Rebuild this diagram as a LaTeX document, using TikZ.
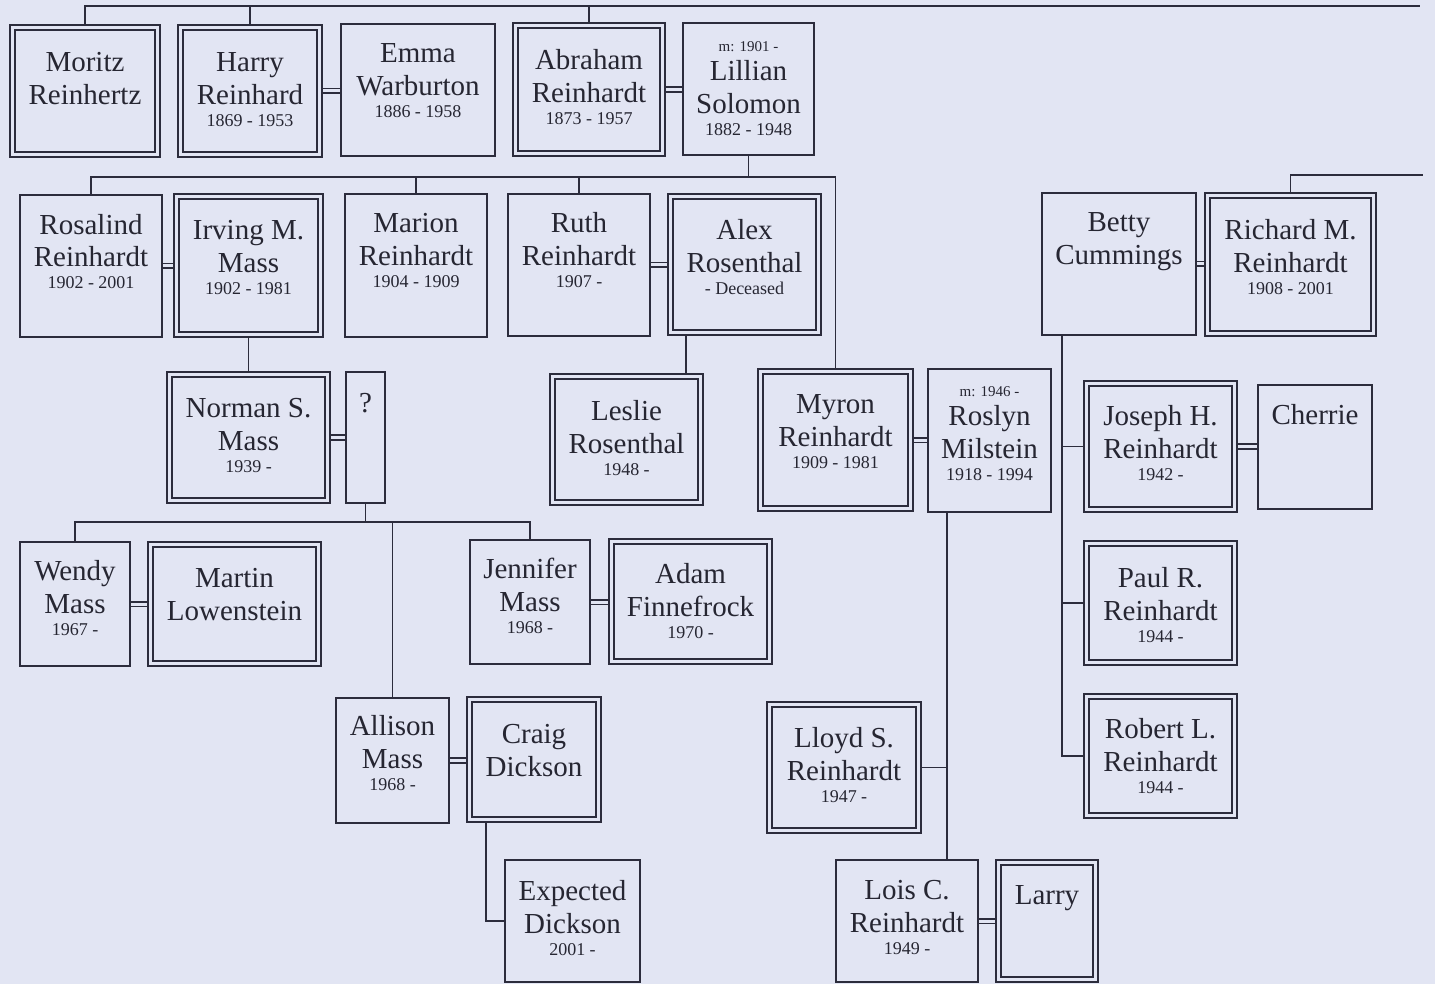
\documentclass[tikz,border=0pt]{standalone}
\usepackage{fontspec}
\setmainfont{Liberation Serif}
\definecolor{bgc}{RGB}{226,229,243}
\definecolor{lc}{RGB}{44,44,60}
\definecolor{tc}{RGB}{38,38,50}
\pgfdeclarelayer{bgl}
\pgfdeclarelayer{lines}
\pgfsetlayers{bgl,lines,main}
\newcommand\namefont{\fontsize{14.5}{16.5}\selectfont\lineskiplimit=-100pt\relax}
\newcommand\yrs[1]{\\[-5.5pt]{\fontsize{9}{9}\selectfont #1}}
\newcommand\mline[1]{{\fontsize{7.5}{7.5}\selectfont #1}\\[-2pt]}
\tikzset{
  sbox/.style={draw=lc, fill=bgc, line width=0.8pt, inner sep=0pt, outer sep=0pt, text=tc},
  dbox/.style={sbox, double=bgc, double distance=1.7pt},
  conn/.style={draw=lc, line width=0.75pt},
  marr/.style={draw=lc, line width=0.85pt, double=bgc, double distance=1.5pt},
}
\newcommand\psingle[7]{%
  \pgfmathsetlengthmacro\pbw{(#4-#2)*0.5pt}%
  \pgfmathsetlengthmacro\pbh{(#5-#3)*0.5pt}%
  \pgfmathsetlengthmacro\pbt{(#6)*0.5pt}%
  \node[sbox] (#1) at ({(#2+#4)/2},{(#3+#5)/2}) {\parbox[c][\pbh][t]{\pbw}{\namefont\centering\rule{0pt}{\pbt}#7}};%
}
\newcommand\pdouble[7]{%
  \pgfmathsetlengthmacro\pbw{(#4-#2-5)*0.5pt}%
  \pgfmathsetlengthmacro\pbh{(#5-#3-5)*0.5pt}%
  \pgfmathsetlengthmacro\pbt{(#6-2.5)*0.5pt}%
  \node[dbox] (#1) at ({(#2+#4)/2},{(#3+#5)/2}) {\parbox[c][\pbh][t]{\pbw}{\namefont\centering\rule{0pt}{\pbt}#7}};%
}
\begin{document}
\begin{tikzpicture}[x=0.5pt, y=-0.5pt]
\useasboundingbox (0,0) rectangle (1435,984);
\begin{pgfonlayer}{bgl}
  \fill[bgc] (0,0) rectangle (1435,984);
\end{pgfonlayer}

% Row 1
\pdouble{moritz}{10}{25}{160}{157}{47}{Moritz\\Reinhertz}
\pdouble{harry}{178}{25}{322}{157}{47}{Harry\\Reinhard\yrs{1869 - 1953}}
\psingle{emma}{341}{24}{495}{156}{39}{Emma\\Warburton\yrs{1886 - 1958}}
\pdouble{abraham}{513}{23}{665}{156}{47}{Abraham\\Reinhardt\yrs{1873 - 1957}}
\psingle{lillian}{683}{23}{814}{155}{29}{\mline{m: 1901 -}Lillian\\Solomon\yrs{1882 - 1948}}

% Row 2
\psingle{rosalind}{20}{195}{162}{337}{39}{Rosalind\\Reinhardt\yrs{1902 - 2001}}
\pdouble{irving}{174}{194}{323}{337}{46}{Irving M.\\Mass\yrs{1902 - 1981}}
\psingle{marion}{345}{194}{487}{337}{39}{Marion\\Reinhardt\yrs{1904 - 1909}}
\psingle{ruth}{508}{194}{650}{336}{39}{Ruth\\Reinhardt\yrs{1907 -}}
\pdouble{alex}{668}{194}{821}{335}{46}{Alex\\Rosenthal\yrs{- Deceased}}
\psingle{betty}{1042}{193}{1196}{335}{39}{Betty\\Cummings}
\pdouble{richard}{1205}{193}{1376}{336}{47}{Richard M.\\Reinhardt\yrs{1908 - 2001}}

% Row 3
\pdouble{norman}{167}{372}{330}{503}{45}{Norman S.\\Mass\yrs{1939 -}}
\psingle{unk}{346}{372}{385}{503}{40}{?}
\pdouble{leslie}{550}{374}{703}{505}{46}{Leslie\\Rosenthal\yrs{1948 -}}
\pdouble{myron}{758}{369}{913}{511}{44}{Myron\\Reinhardt\yrs{1909 - 1981}}
\psingle{roslyn}{928}{369}{1051}{512}{27}{\mline{m: 1946 -}Roslyn\\Milstein\yrs{1918 - 1994}}
\pdouble{joseph}{1084}{381}{1237}{512}{44}{Joseph H.\\Reinhardt\yrs{1942 -}}
\psingle{cherrie}{1258}{385}{1372}{509}{39}{Cherrie}

% Row 4
\psingle{wendy}{20}{542}{130}{666}{38}{Wendy\\Mass\yrs{1967 -}}
\pdouble{martin}{148}{542}{321}{666}{45}{Martin\\Lowenstein}
\psingle{jennifer}{470}{540}{590}{664}{38}{Jennifer\\Mass\yrs{1968 -}}
\pdouble{adam}{609}{539}{772}{664}{44}{Adam\\Finnefrock\yrs{1970 -}}
\pdouble{paul}{1084}{541}{1237}{665}{46}{Paul R.\\Reinhardt\yrs{1944 -}}

% Row 5
\psingle{allison}{336}{698}{449}{823}{37}{Allison\\Mass\yrs{1968 -}}
\pdouble{craig}{467}{697}{601}{822}{46}{Craig\\Dickson}
\pdouble{lloyd}{767}{702}{921}{833}{45}{Lloyd S.\\Reinhardt\yrs{1947 -}}
\pdouble{robert}{1084}{694}{1237}{818}{44}{Robert L.\\Reinhardt\yrs{1944 -}}

% Row 6
\psingle{expected}{505}{860}{640}{982}{40}{Expected\\Dickson\yrs{2001 -}}
\psingle{lois}{836}{860}{978}{982}{39}{Lois C.\\Reinhardt\yrs{1949 -}}
\pdouble{larry}{996}{860}{1098}{982}{44}{Larry}

% connectors
\coordinate (topR) at (1420,6);
\coordinate (bus1) at (0,177);
\coordinate (bus2) at (0,522);
\coordinate (lesx) at (686,0);
\coordinate (cdx) at (486,0);
\coordinate (rsx) at (947,0);
\coordinate (btx) at (1062,0);
\coordinate (topR2) at (1423,175);

\begin{pgfonlayer}{lines}
  \draw[conn] (moritz.north) -- (moritz.north |- topR) -- (topR);
  \draw[conn] (harry.north) -- (harry.north |- topR);
  \draw[conn] (abraham.north) -- (abraham.north |- topR);

  \draw[conn] (lillian.south) -- (lillian.south |- bus1);
  \draw[conn] (rosalind.north) -- (rosalind.north |- bus1) -- (myron.north |- bus1) -- (myron.north);
  \draw[conn] (marion.north) -- (marion.north |- bus1);
  \draw[conn] (ruth.north) -- (ruth.north |- bus1);

  \draw[conn] (irving.south) -- (norman.north);
  \draw[conn] (alex.south -| lesx) -- (leslie.north -| lesx);

  \draw[conn] (unk.south) -- (unk.south |- bus2);
  \draw[conn] (wendy.north) -- (wendy.north |- bus2) -- (jennifer.north |- bus2) -- (jennifer.north);
  \draw[conn] (allison.north) -- (allison.north |- bus2);

  \draw[conn] (craig.south -| cdx) |- (expected.west);

  \draw[conn] (roslyn.south -| rsx) -- (lois.north -| rsx);
  \draw[conn] (lloyd.east) -- (lloyd.east -| rsx);

  \draw[conn] (richard.north) |- (topR2);
  \draw[conn] (betty.south -| btx) |- (robert.west);
  \draw[conn] (joseph.west) -- (joseph.west -| btx);
  \draw[conn] (paul.west) -- (paul.west -| btx);

  % marriages
  \draw[marr] (harry.east) -- (harry.east -| emma.west);
  \draw[marr] (abraham.east) -- (abraham.east -| lillian.west);
  \draw[marr] (rosalind.east) -- (rosalind.east -| irving.west);
  \draw[marr] (ruth.east) -- (ruth.east -| alex.west);
  \draw[marr] (betty.east) -- (betty.east -| richard.west);
  \draw[marr] (norman.east) -- (norman.east -| unk.west);
  \draw[marr] (myron.east) -- (myron.east -| roslyn.west);
  \draw[marr] (joseph.east) -- (joseph.east -| cherrie.west);
  \draw[marr] (wendy.east) -- (wendy.east -| martin.west);
  \draw[marr] (jennifer.east) -- (jennifer.east -| adam.west);
  \draw[marr] (allison.east) -- (allison.east -| craig.west);
  \draw[marr] (lois.east) -- (lois.east -| larry.west);
\end{pgfonlayer}
\end{tikzpicture}
\end{document}
